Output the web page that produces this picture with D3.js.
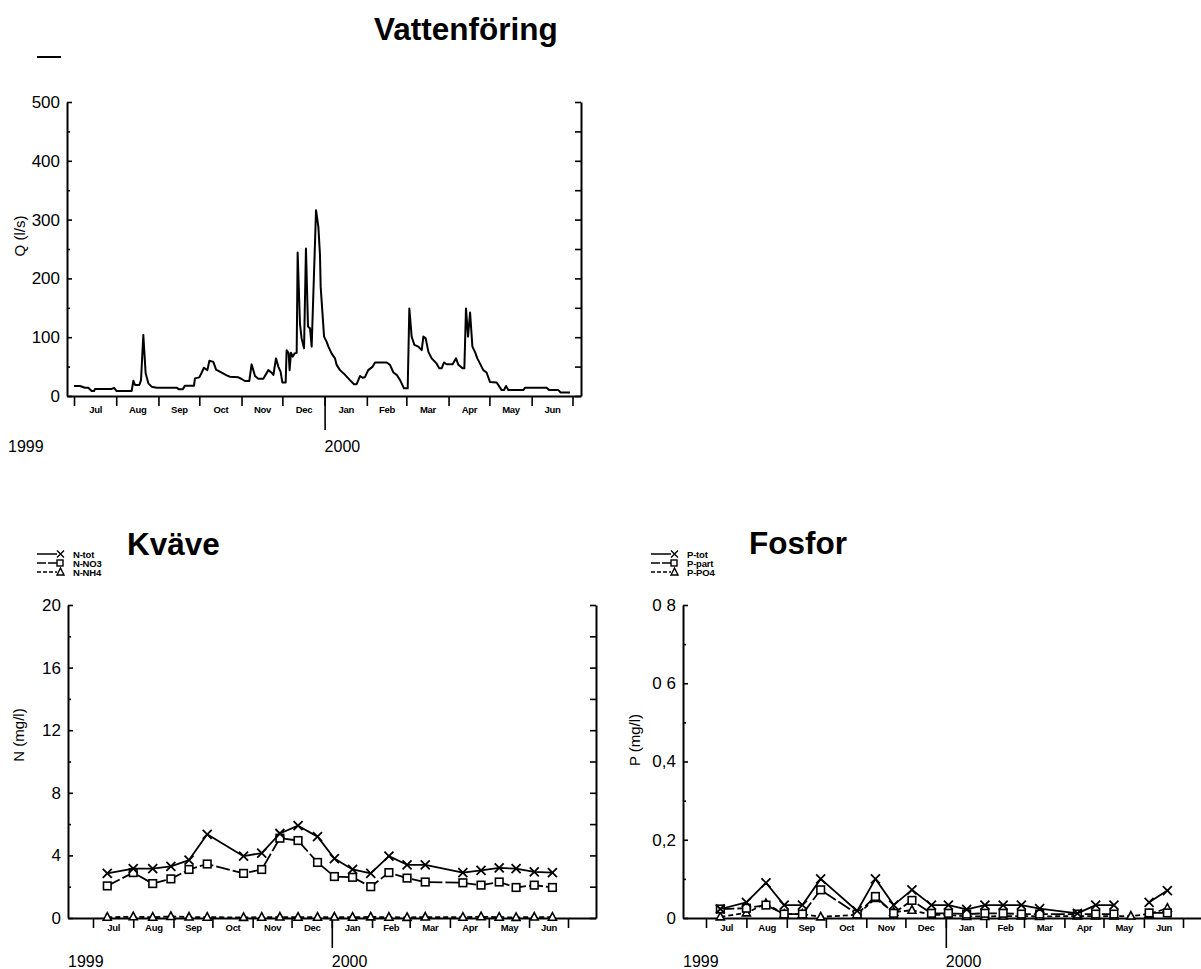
<!DOCTYPE html>
<html><head><meta charset="utf-8">
<script src="https://cdn.jsdelivr.net/npm/d3@7"></script>
<style>body{margin:0;background:#fff;}svg{display:block;}</style>
</head><body>
<svg id="c" width="1201" height="969"></svg>
<script>
// ---------- DATA ----------
const months = ["Jul","Aug","Sep","Oct","Nov","Dec","Jan","Feb","Mar","Apr","May","Jun"];
const years = ["1999","2000"];
// Vattenföring: days since 1999-07-01 and Q (l/s)
const flowDay = [0,4.4,8,10.5,13,14.7,15.4,27.7,29.4,31.3,
42.3,43.6,44.8,48,49.2,50.9,52.6,54.6,57,60.7,
75.4,77.1,79.8,81.5,88.1,88.8,92,93.7,95.4,97.9,
99.4,102.3,104.3,108.4,112.1,114.5,120.7,123.1,125.5,128.7,
130.4,132.9,135.3,139,142.7,145.1,146.4,148.3,150,151.7,
153,155.4,156.1,157.6,158.3,159.3,160.5,162,163.5,164.2,
165.9,167.1,168.9,170.3,171.8,173.3,174.5,177.7,179.4,180.6,
181.1,183.6,185.5,186.8,189.2,191.6,192.8,195.3,199,202.6,
205.6,207.5,210,211.9,213.6,216,219.3,221,229.6,232,
234.5,236.9,239.4,242.3,245,246.2,247.9,249.9,252.8,255.3,
256.5,258.2,260.2,262.6,266.3,268.2,269.9,271.7,273.6,278,
280.5,282.2,285.4,286.6,287.8,289.3,290.8,292.5,294.4,296.1,
298.1,300.5,302.9,305.4,310.3,314,315.7,317.2,318.9,329.9,
331.1,347,349,355.6,357.3,364.2];
const flowQ = [17,17,14,14,8.5,8.5,12,12,14,8.5,
8.5,26,18.7,18.7,27,103.6,38.5,21.5,15.9,14.2,
14.2,11.3,11.3,17.6,17.6,30,31.7,39.6,48,44,
60,58,45,39.6,35,32.8,31.7,28.9,25.5,25.5,
53.8,34,29.4,29.4,44,39.6,35.7,64,50,41,
23,23,78,72.5,44,73.6,66.8,72.5,73.6,244,
123,98,81,251,118,115,84,316,288,240,
186,101,92,84,72,64,53,44,36,27,
20,20,34,31,32,44,50,57,57,53,
40,36,27,13,13,149,101,87,84,78,
101,98,75,64,55,47,47,57,54,54,
64,53,47,47,149,101,142,84,75,64,
55,44,40,24,23,10,10,17,10,10,
14,14,10,10,6,6];
const qTicks = [0,100,200,300,400,500];

// Sampling dates (Kväve / Fosfor)
const sampleDates = ["1999-07-12","1999-08-01","1999-08-16","1999-08-30","1999-09-13","1999-09-27",
"1999-10-25","1999-11-08","1999-11-22","1999-12-06","1999-12-21","2000-01-03","2000-01-17",
"2000-01-31","2000-02-14","2000-02-28","2000-03-13","2000-04-11","2000-04-25","2000-05-09",
"2000-05-22","2000-06-05","2000-06-19"];
const nTot = [2.85,3.15,3.15,3.3,3.7,5.35,3.95,4.15,5.4,5.9,5.2,3.8,3.1,2.85,3.95,3.4,3.4,2.9,3.05,3.2,3.15,2.95,2.9];
const nNO3 = [2.05,2.9,2.2,2.5,3.1,3.45,2.85,3.1,5.1,4.95,3.55,2.65,2.6,2.0,2.9,2.55,2.3,2.25,2.1,2.3,1.95,2.1,1.95];
const nNH4 = [0.05,0.08,0.05,0.1,0.06,0.05,0.04,0.05,0.06,0.05,0.05,0.06,0.05,0.07,0.05,0.04,0.06,0.05,0.08,0.05,0.04,0.06,0.05];
const pTot  = [0.023,0.04,0.09,0.033,0.033,0.10,0.018,0.10,0.033,0.072,0.033,0.033,0.022,0.033,0.033,0.033,0.024,0.012,0.033,0.033,null,0.04,0.07];
const pPart = [0.023,0.025,0.033,0.01,0.01,0.072,0.01,0.055,0.012,0.045,0.012,0.012,0.01,0.012,0.012,0.01,0.01,0.01,0.01,0.01,null,0.013,0.013];
const pPO4  = [0.003,0.013,0.037,0.01,0.01,0.003,0.008,0.05,0.015,0.02,0.008,0.008,0.004,0.004,0.005,0.005,0.004,0.005,0.005,0.005,0.005,0.01,0.025];
const nTicks = [0,4,8,12,16,20];
const nTickLabels = ["0","4","8","12","16","20"];
const pTicks = [0,0.2,0.4,0.6,0.8];
const pTickLabels = ["0","0,2","0,4","0 6","0 8"];
const nLegend = ["N-tot","N-NO3","N-NH4"];
const pLegend = ["P-tot","P-part","P-PO4"];

// ---------- DRAWING ----------
const svg = d3.select("#c");
const FONT = "'Liberation Sans', Arial, sans-serif";
const T0 = new Date(Date.UTC(1999,6,1)), T1 = new Date(Date.UTC(2000,6,1));
const Y2000 = new Date(Date.UTC(2000,0,1));
const monthStarts = d3.utcMonth.range(T0, d3.utcDay.offset(T1,1));
const monthMids = monthStarts.slice(0,12).map(d => new Date((+d + +d3.utcMonth.offset(d,1))/2));
const parse = d3.utcParse("%Y-%m-%d");
const sDates = sampleDates.map(parse);

function panel(o){
  const xs = d3.scaleUtc().domain([T0,T1]).range([o.xJul99,o.xJul00]);
  const x = xs.copy().domain([xs.invert(o.left), xs.invert(o.right)]).range([o.left,o.right]);
  const y = d3.scaleLinear().domain([0,o.yMax]).range([o.bottom,o.top]);
  const g = svg.append("g");
  g.append("g").attr("transform",`translate(0,${o.bottom})`)
    .call(d3.axisBottom(x).tickValues(monthStarts).tickSize(10).tickSizeOuter(0).tickFormat(""));
  g.append("g").attr("transform",`translate(0,${o.bottom})`)
    .call(d3.axisBottom(x).tickValues([Y2000]).tickSize(o.yearTick).tickFormat(""))
    .select(".domain").remove();
  const ml = g.append("g").attr("transform",`translate(0,${o.bottom})`)
    .call(d3.axisBottom(x).tickValues(monthMids).tickSize(0).tickPadding(o.mPad).tickFormat((d,i)=>months[i]));
  ml.select(".domain").remove();
  ml.selectAll("text").attr("font-size",9.5).attr("font-weight","bold").attr("font-family",FONT).attr("letter-spacing","-0.3");
  const la = g.append("g").attr("transform",`translate(${o.left},0)`)
    .call(d3.axisLeft(y).tickValues(o.yTicks).tickSizeInner(-5).tickSizeOuter(0).tickPadding(7).tickFormat((d,i)=>o.yLabels[i]));
  la.selectAll("text").attr("font-size",17).attr("font-family",FONT);
  g.append("g").attr("transform",`translate(${o.left},0)`)
    .call(d3.axisLeft(y).tickValues(o.yMinor).tickSizeInner(-3).tickSizeOuter(0).tickFormat(""))
    .select(".domain").remove();
  g.append("g").attr("transform",`translate(${o.right},0)`)
    .call(d3.axisRight(y).tickValues(o.rightTicks).tickSizeInner(-6).tickSizeOuter(0).tickFormat(""));
  g.selectAll(".domain").attr("stroke-width",2);
  g.selectAll(".tick line").attr("stroke-width",1.6);
  g.append("text").attr("transform",`translate(${o.yTitleX},${o.yTitleY}) rotate(-90)`)
    .attr("text-anchor","middle").attr("font-family",FONT).attr("font-size",15).text(o.yTitle);
  g.selectAll(".yr").data(years).join("text").attr("class","yr")
    .attr("x",(d,i)=> i===0 ? o.y1999X : x(Y2000)).attr("y",o.yearY)
    .attr("font-family",FONT).attr("font-size",16).text(d=>d);
  g.append("text").attr("x",o.titleX).attr("y",o.titleY).attr("font-family",FONT)
    .attr("font-weight","bold").attr("font-size",31.5).text(o.title);
  return {x,y,g};
}

// --- Vattenföring ---
const P1 = panel({left:67,right:581,top:102,bottom:396,xJul99:74,xJul00:572.5,yMax:500,
  yTicks:qTicks,yLabels:qTicks.map(String),yMinor:d3.range(50,500,100),rightTicks:d3.range(0,501,50),
  yearTick:34,mPad:10,yTitle:"Q (l/s)",yTitleX:25,yTitleY:236,y1999X:8,yearY:452,
  title:"Vattenföring",titleX:374,titleY:40});
P1.g.append("path").datum(flowDay.map((d,i)=>({t:new Date(+T0 + d*864e5), v:flowQ[i]})))
  .attr("fill","none").attr("stroke","#000").attr("stroke-width",2).attr("stroke-linejoin","round")
  .attr("d",d3.line().x(d=>P1.x(d.t)).y(d=>P1.y(d.v)));
svg.append("line").attr("x1",37).attr("x2",61).attr("y1",57).attr("y2",57).attr("stroke","#000").attr("stroke-width",2);

function marker(g,type,cx,cy){
  if(type==="x"){
    g.append("path").attr("d",`M${cx-4.5},${cy-4.5}L${cx+4.5},${cy+4.5}M${cx-4.5},${cy+4.5}L${cx+4.5},${cy-4.5}`)
      .attr("stroke","#000").attr("stroke-width",1.8).attr("fill","none");
  } else if(type==="sq"){
    g.append("rect").attr("x",cx-3.8).attr("y",cy-3.8).attr("width",7.6).attr("height",7.6)
      .attr("fill","#fff").attr("stroke","#000").attr("stroke-width",1.6);
  } else {
    g.append("path").attr("d",`M${cx},${cy-4.5}L${cx+4},${cy+3}L${cx-4},${cy+3}Z`)
      .attr("fill","#fff").attr("stroke","#000").attr("stroke-width",1.6);
  }
}
const styles = [{m:"x",dash:null},{m:"sq",dash:"14,3"},{m:"tri",dash:"5,3"}];
function series(P, vals, st){
  const pts = sDates.map((t,i)=>({t,v:vals[i]}));
  P.g.append("path").datum(pts).attr("fill","none").attr("stroke","#000").attr("stroke-width",1.8)
    .attr("stroke-dasharray",st.dash).attr("stroke-linejoin","round")
    .attr("d",d3.line().defined(d=>d.v!==null).x(d=>P.x(d.t)).y(d=>P.y(d.v)));
  const mg = P.g.append("g");
  pts.filter(d=>d.v!==null).forEach(d=>marker(mg,st.m,P.x(d.t),P.y(d.v)));
}
function legend(x0, y0, labels){
  const g = svg.append("g");
  labels.forEach((lab,i)=>{
    const yy = y0 + i*9;
    g.append("line").attr("x1",x0).attr("x2",x0+20).attr("y1",yy).attr("y2",yy)
      .attr("stroke","#000").attr("stroke-width",1.5).attr("stroke-dasharray",i===0?null:(i===1?"9,2":"4,2"));
    if(i===0){ g.append("path").attr("d",`M${x0+20},${yy-3.5}L${x0+27},${yy+3.5}M${x0+20},${yy+3.5}L${x0+27},${yy-3.5}`).attr("stroke","#000").attr("stroke-width",1.4); }
    else if(i===1){ g.append("rect").attr("x",x0+20).attr("y",yy-3).attr("width",6).attr("height",6).attr("fill","#fff").attr("stroke","#000").attr("stroke-width",1.4); }
    else { g.append("path").attr("d",`M${x0+23.5},${yy-4}L${x0+27},${yy+3}L${x0+20},${yy+3}Z`).attr("fill","#fff").attr("stroke","#000").attr("stroke-width",1.4); }
    g.append("text").attr("x",x0+36).attr("y",yy+3.5).attr("font-family",FONT).attr("font-weight","bold")
      .attr("font-size",9.5).attr("letter-spacing","-0.2").text(lab);
  });
}

// --- Kväve ---
const P2 = panel({left:68,right:596,top:605,bottom:918,xJul99:93,xJul00:568,yMax:20,
  yTicks:nTicks,yLabels:nTickLabels,yMinor:d3.range(2,20,4),rightTicks:d3.range(0,21,2),
  yearTick:30,mPad:6,yTitle:"N (mg/l)",yTitleX:24,yTitleY:735,y1999X:68,yearY:967,
  title:"Kväve",titleX:127,titleY:555});
series(P2,nNH4,styles[2]);
series(P2,nNO3,styles[1]);
series(P2,nTot,styles[0]);
legend(37,554,nLegend);

// --- Fosfor ---
const P3 = panel({left:683,right:1211,top:605,bottom:918,xJul99:706,xJul00:1183,yMax:0.8,
  yTicks:pTicks,yLabels:pTickLabels,yMinor:[0.1,0.3,0.5,0.7],rightTicks:d3.range(0,0.81,0.1),
  yearTick:30,mPad:6,yTitle:"P (mg/l)",yTitleX:640,yTitleY:740,y1999X:683,yearY:967,
  title:"Fosfor",titleX:749,titleY:554});
series(P3,pPO4,styles[2]);
series(P3,pPart,styles[1]);
series(P3,pTot,styles[0]);
legend(651,554,pLegend);
</script>
</body></html>
